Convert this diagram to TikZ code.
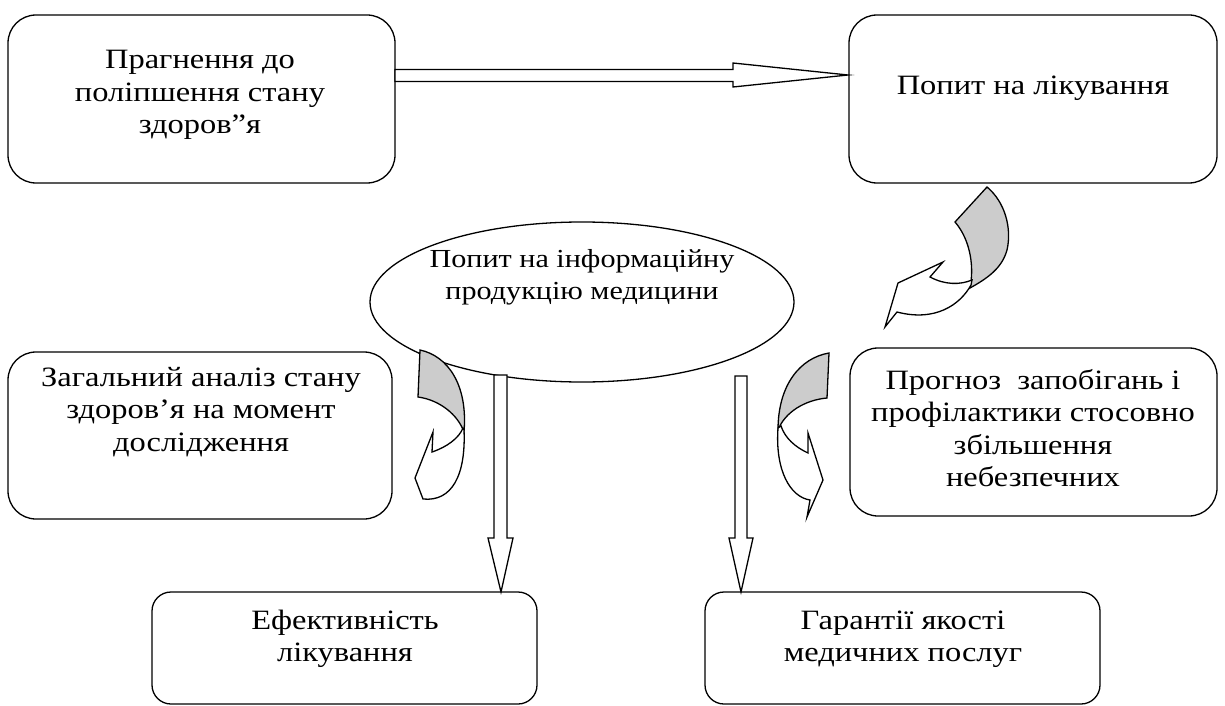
\documentclass[tikz,border=0pt]{standalone}
\usepackage{fontspec}
\setmainfont[FakeStretch=1.16]{Liberation Serif}
\definecolor{shade}{RGB}{204,204,204}
\begin{document}
\begin{tikzpicture}[x=1pt,y=-1pt,
  outl/.style={draw=black,line width=1.3pt,line join=miter},
  rbox/.style={outl,rounded corners=#1},
  txt/.style={align=center,font=\fontsize{28}{32.5}\selectfont,inner sep=0pt},
  etxt/.style={align=center,font=\fontsize{26}{32}\selectfont,inner sep=0pt},
  bigarrow/.style={outl,fill=white},
  twist/.style={outl,fill=shade}]
\useasboundingbox (0,0) rectangle (1225,706);
% boxes
\draw[rbox=28] (8,15) rectangle (395,183);
\draw[rbox=28] (849,15) rectangle (1217,183);
\draw[rbox=28] (8,352) rectangle (392,519);
\draw[rbox=28] (850,348) rectangle (1217,516);
\draw[rbox=19] (152,592) rectangle (537,704);
\draw[rbox=19] (705,592) rectangle (1100,704);
\draw[outl] (582,302) ellipse [x radius=212, y radius=80];
% texts
\node[txt] (t1) at (200,95) {Прагнення до\\поліпшення стану\\здоров”я};
\node[txt] (t2) at (1033,88) {Попит на лікування};
\node[etxt] (t3) at (582,277) {Попит на інформаційну\\продукцію медицини};
\node[txt] (t4) at (201,412) {Загальний аналіз стану\\здоров’я на момент\\дослідження};
\node[txt] (t5) at (1033,428) {Прогноз~ запобігань і\\профілактики стосовно\\збільшення\\небезпечних};
\node[txt] (t6) at (345,639) {Ефективність\\лікування};
\node[txt] (t7) at (903,639) {Гарантії якості\\медичних послуг};
% straight block arrows
\draw[bigarrow] (395,69.5) -- (733,69.5) -- (733,63) -- (848,75) -- (733,87) -- (733,81.5) -- (395,81.5) -- cycle;
\draw[bigarrow] (494,375) -- (494,538) -- (488,538) -- (501,592) -- (513,538) -- (507,538) -- (507,375) -- cycle;
\draw[bigarrow] (735,376) -- (735,538) -- (729,538) -- (741,592) -- (753,538) -- (747,538) -- (747,376) -- cycle;
% curved arrow top right
\draw[twist] (955,222) -- (987,187) .. controls (1005,202) and (1012,228) .. (1007,250)
  .. controls (1002,268) and (988,278) .. (970,288) .. controls (975,262) and (968,237) .. (955,222) -- cycle;
\draw[bigarrow] (971,285) .. controls (960,305) and (935,322) .. (897,312) -- (885,327) -- (898,283) -- (943,262) -- (930,277)
  .. controls (945,285) and (960,285) .. (972,280) -- cycle;
% curved arrow left
\draw[twist] (418,397) -- (420,350) .. controls (448,356) and (468,385) .. (464,432)
  .. controls (458,415) and (440,400) .. (418,397) -- cycle;
\draw[bigarrow] (464,430) .. controls (466,475) and (452,502) .. (423,499) -- (415,478) -- (433,432) -- (432,452)
  .. controls (447,447) and (459,438) .. (463,428) -- cycle;
% curved arrow right
\draw[twist] (827,398) -- (829,353) .. controls (800,358) and (778,385) .. (778,430)
  .. controls (785,412) and (805,400) .. (827,398) -- cycle;
\draw[bigarrow] (778,428) .. controls (775,470) and (790,497) .. (810,500) -- (807,517) -- (823,480) -- (808,433) -- (808,453)
  .. controls (795,447) and (785,438) .. (781,426) -- cycle;
\end{tikzpicture}
\end{document}
